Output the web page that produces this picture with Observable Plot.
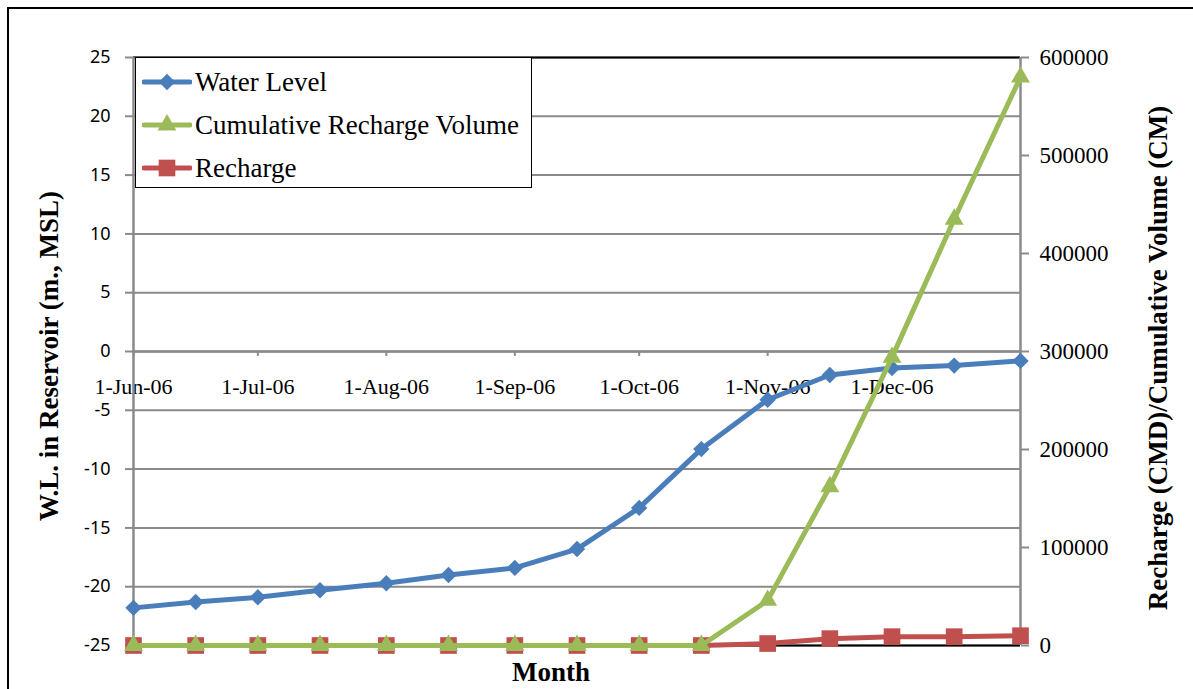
<!DOCTYPE html>
<html>
<head>
<meta charset="utf-8">
<script src="https://cdn.jsdelivr.net/npm/d3@7"></script>
<script src="https://cdn.jsdelivr.net/npm/@observablehq/plot@0.6"></script>
<style>
  html, body { margin: 0; padding: 0; background: #fff; }
  #wrap { position: relative; width: 1193px; height: 689px; overflow: hidden; background: #fff; }
  #wrap svg.plot { position: absolute; left: 0; top: 0; }
  .frame { position: absolute; left: 7px; top: 7px; width: 1300px; height: 800px;
           border-left: 2.5px solid #000; border-top: 2.5px solid #000; pointer-events: none; }
  .title { position: absolute; font-family: "Liberation Serif", "Times New Roman", serif;
           font-weight: bold; font-size: 27px; color: #000; white-space: nowrap; }
  .ytitle { transform: translate(-50%, -50%) rotate(-90deg); }
  .xtitle { transform: translate(-50%, -50%); }
  #legend { position: absolute; left: 135px; top: 57px; width: 397px; height: 131px; box-sizing: border-box;
            border: 1.5px solid #000; background: #fff; font-family: "Liberation Serif", "Times New Roman", serif;
            font-size: 27px; color: #000; }
  #legend .row { position: absolute; left: 6px; height: 40px; display: flex; align-items: center; white-space: nowrap; }
  #legend svg { margin-right: 3px; }
</style>
</head>
<body>
<div id="wrap"></div>
<script>
// ---- data ----
const dates = ["2006-06-01","2006-06-16","2006-07-01","2006-07-16","2006-08-01","2006-08-16","2006-09-01","2006-09-16","2006-10-01","2006-10-16","2006-11-01","2006-11-16","2006-12-01","2006-12-16","2007-01-01"];
const waterLevel = [-21.8,-21.3,-20.9,-20.3,-19.7,-19.0,-18.4,-16.8,-13.3,-8.3,-4.1,-2.0,-1.4,-1.2,-0.8];
const cumulativeVolume = [0,0,0,0,0,0,0,0,0,0,46000,162000,294000,435000,580000];
const recharge = [0,0,0,0,0,0,0,0,0,0,2000,7000,9000,9000,10000];
const leftTicks = [-25,-20,-15,-10,-5,0,5,10,15,20,25];
const rightTicks = [0,100000,200000,300000,400000,500000,600000];
const monthTicks = ["2006-06-01","2006-07-01","2006-08-01","2006-09-01","2006-10-01","2006-11-01","2006-12-01"];
const seriesNames = ["Water Level","Cumulative Recharge Volume","Recharge"];

// ---- styles ----
const BLUE = "#4A7EBB", GREEN = "#9BBB59", RED = "#C0504D", GRID = "#8a8a8a";
const leftDomain = [-25, 25];
const rightDomain = [0, 600000];
const toLeft = v => leftDomain[0] + (v - rightDomain[0]) / (rightDomain[1] - rightDomain[0]) * (leftDomain[1] - leftDomain[0]);
const fromLeft = y => rightDomain[0] + (y - leftDomain[0]) / (leftDomain[1] - leftDomain[0]) * (rightDomain[1] - rightDomain[0]);

const parse = d3.utcParse("%Y-%m-%d");
const fmt = d3.utcFormat("%-d-%b-%y");
const rows = dates.map((d, i) => ({
  date: parse(d), wl: waterLevel[i], cum: toLeft(cumulativeVolume[i]), rech: toLeft(recharge[i])
}));
const months = monthTicks.map(parse);

const serif = "Liberation Serif, Times New Roman, serif";
const sans = "Noto Sans, Open Sans, sans-serif";
const R_DIAMOND = 7.4, R_TRIANGLE = 7, R_SQUARE = 9.4, LW = 5;

const chart = Plot.plot({
  width: 1193,
  height: 689,
  marginLeft: 133,
  marginRight: 173,
  marginTop: 57,
  marginBottom: 44,
  x: { type: "utc", domain: [parse(dates[0]), parse(dates[dates.length - 1])], axis: null },
  y: { domain: leftDomain, axis: null },
  marks: [
    Plot.ruleY(leftTicks, { stroke: GRID, strokeWidth: 2 }),
    Plot.ruleY([0], { stroke: GRID, strokeWidth: 2.5 }),
    Plot.ruleY([leftDomain[0], leftDomain[1]], { stroke: "#000", strokeWidth: 2 }),
    Plot.ruleX(months, { x: d => d, y1: 0, y2: -0.42, stroke: GRID, strokeWidth: 2 }),
    Plot.text(months, { x: d => d, y: () => 0, dy: 35, text: d => fmt(d), fontFamily: serif, fontSize: 22, fill: "#000" }),
    Plot.axisY({ anchor: "left", ticks: leftTicks, tickSize: 8, tickPadding: 15, stroke: GRID, strokeWidth: 2,
                 fill: "#000", fontFamily: sans, fontSize: 18, label: null, tickFormat: d => String(d) }),
    Plot.ruleX([parse(dates[0])], { stroke: GRID, strokeWidth: 2.5 }),
    Plot.axisY(rightTicks.map(toLeft), { anchor: "right", tickSize: 8, tickPadding: 11, stroke: GRID, strokeWidth: 2,
                 fill: "#000", fontFamily: serif, fontSize: 23, label: null, tickFormat: d => String(Math.round(fromLeft(d))) }),
    Plot.ruleX([parse(dates[dates.length - 1])], { stroke: GRID, strokeWidth: 2.5 }),
    // Water level
    Plot.line(rows, { x: "date", y: "wl", stroke: BLUE, strokeWidth: LW }),
    Plot.dot(rows, { x: "date", y: "wl", symbol: "diamond2", r: R_DIAMOND, fill: BLUE, stroke: null }),
    // Recharge
    Plot.line(rows, { x: "date", y: "rech", stroke: RED, strokeWidth: LW }),
    Plot.dot(rows, { x: "date", y: "rech", symbol: "square", r: R_SQUARE, fill: RED, stroke: null }),
    // Cumulative
    Plot.line(rows, { x: "date", y: "cum", stroke: GREEN, strokeWidth: LW }),
    Plot.dot(rows, { x: "date", y: "cum", symbol: "triangle", r: R_TRIANGLE, fill: GREEN, stroke: null })
  ]
});
chart.classList.add("plot");

const wrap = document.getElementById("wrap");
wrap.appendChild(chart);

const frame = document.createElement("div");
frame.className = "frame";
wrap.appendChild(frame);

function addTitle(text, cls, x, y) {
  const el = document.createElement("div");
  el.className = "title " + cls;
  el.style.left = x + "px";
  el.style.top = y + "px";
  el.textContent = text;
  wrap.appendChild(el);
}
addTitle("W.L. in Reservoir (m., MSL)", "ytitle", 49, 356);
addTitle("Recharge (CMD)/Cumulative Volume (CM)", "ytitle", 1158, 358);
addTitle("Month", "xtitle", 551, 672);

// legend
const legend = document.createElement("div");
legend.id = "legend";
const legendItems = [
  { name: seriesNames[0], color: BLUE, sym: d3.symbolDiamond2, r: R_DIAMOND },
  { name: seriesNames[1], color: GREEN, sym: d3.symbolTriangle, r: R_TRIANGLE },
  { name: seriesNames[2], color: RED, sym: d3.symbolSquare, r: R_SQUARE }
];
legendItems.forEach((it, i) => {
  const row = document.createElement("div");
  row.className = "row";
  row.style.top = (4 + i * 43) + "px";
  const ns = "http://www.w3.org/2000/svg";
  const s = document.createElementNS(ns, "svg");
  s.setAttribute("width", 50); s.setAttribute("height", 40);
  const ln = document.createElementNS(ns, "line");
  ln.setAttribute("x1", 2); ln.setAttribute("x2", 48); ln.setAttribute("y1", 20); ln.setAttribute("y2", 20);
  ln.setAttribute("stroke", it.color); ln.setAttribute("stroke-width", LW); ln.setAttribute("stroke-linecap", "round");
  s.appendChild(ln);
  const p = document.createElementNS(ns, "path");
  p.setAttribute("d", d3.symbol(it.sym, Math.PI * it.r * it.r)());
  p.setAttribute("transform", "translate(25,20)");
  p.setAttribute("fill", it.color);
  s.appendChild(p);
  row.appendChild(s);
  const t = document.createElement("span");
  t.textContent = it.name;
  row.appendChild(t);
  legend.appendChild(row);
});
wrap.appendChild(legend);
</script>
</body>
</html>
